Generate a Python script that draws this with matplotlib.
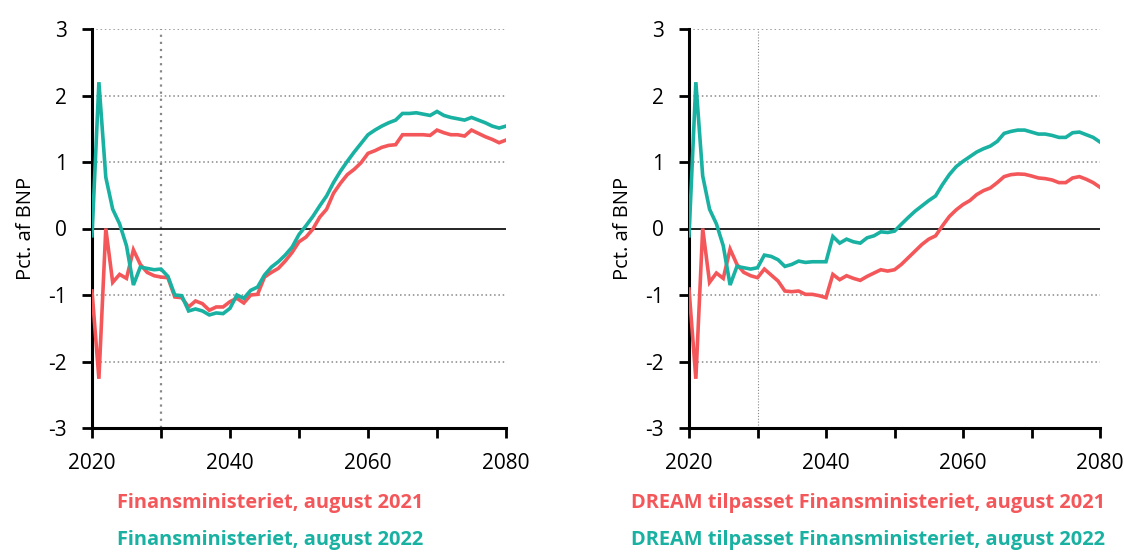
import matplotlib
matplotlib.use("Agg")
import matplotlib.pyplot as plt
import numpy as np

plt.rcParams['font.family'] = ['Open Sans', 'DejaVu Sans']
plt.rcParams['axes.unicode_minus'] = False

years = np.arange(2020, 2081)

# Finansministeriet (left panel)
fm_2021 = [-0.94, -2.26, 0.00, -0.81, -0.69, -0.75, -0.32, -0.54, -0.66, -0.71,
           -0.73, -0.74, -1.03, -1.04, -1.18, -1.09, -1.13, -1.23, -1.18, -1.18,
           -1.10, -1.05, -1.12, -1.00, -0.99, -0.73, -0.66, -0.60, -0.49, -0.36,
           -0.20, -0.13, -0.01, 0.17, 0.29, 0.53, 0.68, 0.81, 0.89, 0.99,
           1.13, 1.17, 1.22, 1.25, 1.26, 1.41, 1.41, 1.41, 1.41, 1.40,
           1.48, 1.44, 1.41, 1.41, 1.39, 1.48, 1.43, 1.38, 1.34, 1.29, 1.33]
fm_2022 = [-0.11, 2.20, 0.77, 0.29, 0.07, -0.26, -0.85, -0.58, -0.60, -0.62,
           -0.61, -0.72, -1.00, -1.01, -1.24, -1.21, -1.24, -1.30, -1.27, -1.28,
           -1.20, -1.00, -1.05, -0.93, -0.88, -0.70, -0.58, -0.50, -0.40, -0.28,
           -0.09, 0.04, 0.18, 0.34, 0.49, 0.69, 0.86, 1.01, 1.15, 1.28,
           1.41, 1.48, 1.54, 1.59, 1.63, 1.73, 1.73, 1.74, 1.72, 1.70,
           1.76, 1.70, 1.67, 1.65, 1.63, 1.67, 1.63, 1.59, 1.54, 1.51, 1.54]

# DREAM tilpasset Finansministeriet (right panel)
dream_2021 = [-0.91, -2.26, 0.00, -0.81, -0.67, -0.75, -0.31, -0.54, -0.66, -0.71,
              -0.74, -0.61, -0.70, -0.79, -0.94, -0.95, -0.94, -0.99, -0.99, -1.01,
              -1.04, -0.69, -0.77, -0.71, -0.75, -0.78, -0.72, -0.67, -0.62, -0.64,
              -0.62, -0.54, -0.44, -0.34, -0.24, -0.16, -0.11, 0.04, 0.18, 0.28,
              0.36, 0.42, 0.51, 0.57, 0.61, 0.69, 0.78, 0.81, 0.82, 0.815,
              0.79, 0.76, 0.75, 0.73, 0.69, 0.69, 0.76, 0.78, 0.74, 0.69, 0.62]
dream_2022 = [-0.11, 2.20, 0.79, 0.29, 0.07, -0.26, -0.85, -0.57, -0.59, -0.61,
              -0.59, -0.40, -0.42, -0.47, -0.57, -0.54, -0.49, -0.51, -0.50, -0.50,
              -0.50, -0.12, -0.22, -0.16, -0.20, -0.22, -0.14, -0.11, -0.05, -0.06,
              -0.04, 0.065, 0.165, 0.26, 0.34, 0.42, 0.49, 0.66, 0.81, 0.93,
              1.01, 1.08, 1.15, 1.20, 1.24, 1.31, 1.43, 1.46, 1.48, 1.48,
              1.45, 1.42, 1.42, 1.40, 1.37, 1.37, 1.44, 1.45, 1.41, 1.37, 1.30]

RED = "#F4575A"
TEAL = "#19B1A2"

# series, labels, vertical guide style (width, gap), axes box in pixels, label centre x
panels = [
    (fm_2021, fm_2022, "Finansministeriet, august 2021",
     "Finansministeriet, august 2022", (1.6, 2.2), (92, 414), 270),
    (dream_2021, dream_2022, "DREAM tilpasset Finansministeriet, august 2021",
     "DREAM tilpasset Finansministeriet, august 2022", (0.8, 1.6), (689, 411), 868),
]

W, H = 1124, 552
fig = plt.figure(figsize=(W / 100, H / 100), dpi=100)

for s21, s22, lab21, lab22, vdash, (x0, w), cx in panels:
    ax = fig.add_axes([x0 / W, 124 / H, w / W, 399 / H])
    for y in [-2, -1, 1, 2, 3]:
        ax.axhline(y, color="#888888", lw=1.1, ls=(0, (1, 1.8)), zorder=1)
    ax.axvline(2030, color="#888888", lw=vdash[0], ls=(0, (1, vdash[1])), zorder=1)
    ax.axhline(0, color="black", lw=1.2, zorder=2)

    ax.plot(years, s21, color=RED, lw=2.6, zorder=3, solid_joinstyle="miter")
    ax.plot(years, s22, color=TEAL, lw=2.6, zorder=4, solid_joinstyle="miter")

    ax.set_xlim(2020, 2080)
    ax.set_ylim(-3, 3)
    ax.set_xticks([2020, 2030, 2040, 2050, 2060, 2070, 2080])
    ax.set_xticklabels(["2020", "", "2040", "", "2060", "", "2080"])
    ax.set_yticks(range(-3, 4))
    ax.tick_params(axis="both", direction="out", length=7, width=2,
                   labelsize=15)
    ax.tick_params(axis="y", pad=11)
    ax.tick_params(axis="x", pad=11)
    for side in ["top", "right"]:
        ax.spines[side].set_visible(False)
    for side in ["left", "bottom"]:
        ax.spines[side].set_linewidth(2.2)
    ax.set_ylabel("Pct. af BNP", fontsize=14.5, labelpad=9)

    fig.text(cx / W, 1 - 503 / H, lab21, color=RED, fontsize=14.4,
             fontweight="bold", ha="center", va="center")
    fig.text(cx / W, 1 - 540 / H, lab22, color=TEAL, fontsize=14.4,
             fontweight="bold", ha="center", va="center")

fig.savefig("out.png", dpi=100)
